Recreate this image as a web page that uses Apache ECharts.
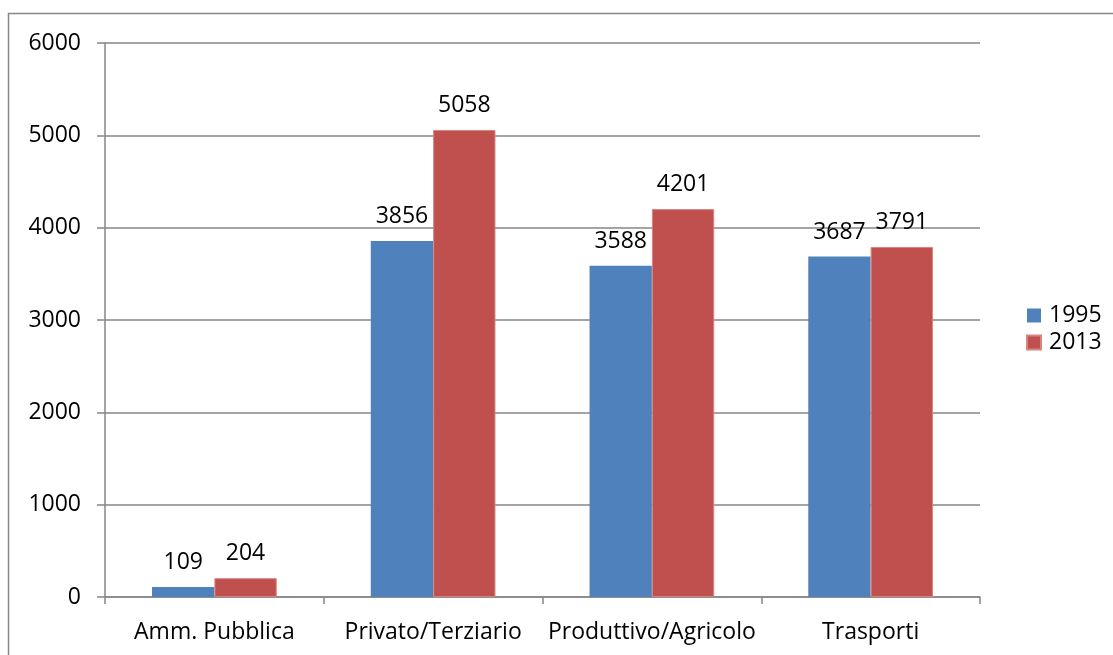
<!DOCTYPE html>
<html>
<head>
<meta charset="utf-8">
<script src="https://cdn.jsdelivr.net/npm/echarts@6/dist/echarts.min.js"></script>
<style>
  html, body { margin: 0; padding: 0; background: #ffffff; }
  #chart { width: 1113px; height: 655px; }
</style>
</head>
<body>
<div id="chart"></div>
<script>
// Consumi per settore, 1995 vs 2013
const categories = ['Amm. Pubblica', 'Privato/Terziario', 'Produttivo/Agricolo', 'Trasporti'];
const values1995 = [109, 3856, 3588, 3687];
const values2013 = [204, 5058, 4201, 3791];
const seriesNames = ['1995', '2013'];
const yTicks = { min: 0, max: 6000, interval: 1000 };

const FONT = '"Open Sans", "Liberation Sans", sans-serif';
const FONT_SIZE = 23;
const GRAY = '#868686';

const chart = echarts.init(document.getElementById('chart'), null, { renderer: 'canvas' });

const labelStyle = {
  show: true,
  position: 'top',
  distance: 13,
  color: '#000',
  fontFamily: FONT,
  fontSize: FONT_SIZE
};

chart.setOption({
  animation: false,
  backgroundColor: '#ffffff',
  graphic: [{
    type: 'rect',
    shape: { x: 8.5, y: 13.5, width: 1130, height: 680 },
    style: { fill: 'none', stroke: GRAY, lineWidth: 1.5 },
    silent: true
  }],
  grid: { left: 105, right: 133, top: 43, bottom: 58, containLabel: false },
  legend: {
    orient: 'vertical',
    left: 1021,
    top: 299,
    itemWidth: 14,
    itemHeight: 14,
    itemGap: 4,
    icon: 'rect',
    textStyle: { color: '#000', fontFamily: FONT, fontSize: FONT_SIZE, padding: [0, 0, 0, 3] },
    data: seriesNames
  },
  xAxis: {
    type: 'category',
    data: categories,
    axisLine: { show: true, lineStyle: { color: GRAY, width: 1.5 } },
    axisTick: { show: true, interval: 0, alignWithLabel: false, length: 7, lineStyle: { color: GRAY, width: 1.5 } },
    axisLabel: { interval: 0, color: '#000', fontFamily: FONT, fontSize: FONT_SIZE, margin: 24 },
    splitLine: { show: false }
  },
  yAxis: {
    type: 'value',
    min: yTicks.min,
    max: yTicks.max,
    interval: yTicks.interval,
    axisLine: { show: true, lineStyle: { color: GRAY, width: 1.5 } },
    axisTick: { show: true, length: 8, lineStyle: { color: GRAY, width: 1.5 } },
    axisLabel: {
      color: '#000', fontFamily: FONT, fontSize: FONT_SIZE, margin: 24,
      formatter: (v) => String(v)
    },
    splitLine: { show: true, lineStyle: { color: GRAY, width: 1.5 } }
  },
  series: [
    {
      name: seriesNames[0],
      type: 'bar',
      data: values1995,
      barGap: '0%',
      barCategoryGap: '43%',
      itemStyle: { color: '#4F81BD' },
      label: labelStyle
    },
    {
      name: seriesNames[1],
      type: 'bar',
      data: values2013,
      barGap: '0%',
      barCategoryGap: '43%',
      itemStyle: { color: '#C0504D', borderColor: '#D8847F', borderWidth: 1 },
      label: labelStyle
    }
  ]
});
</script>
</body>
</html>
